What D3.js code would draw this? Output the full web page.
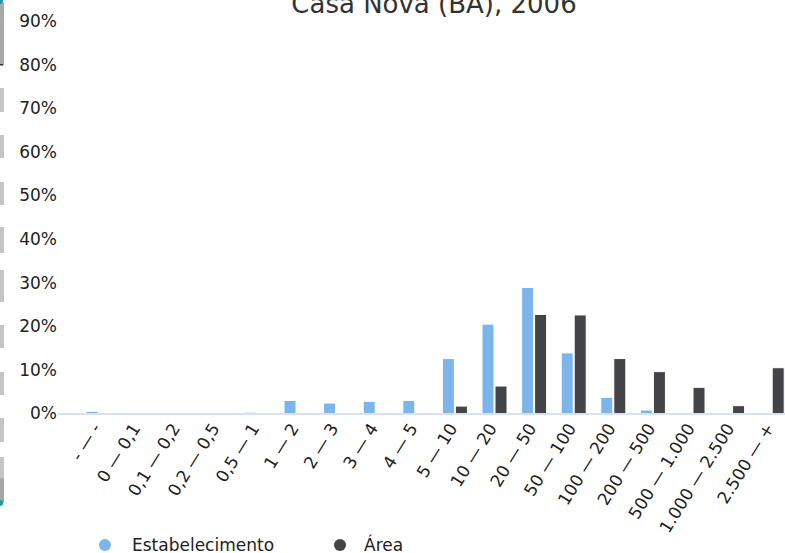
<!DOCTYPE html>
<html>
<head>
<meta charset="utf-8">
<script src="https://cdn.jsdelivr.net/npm/d3@7"></script>
<style>
  html, body { margin: 0; padding: 0; background: #fff; }
  svg { display: block; font-family: "DejaVu Sans", sans-serif; }
</style>
</head>
<body>
<svg id="chart" width="785" height="553"></svg>
<script>
const title = "Casa Nova (BA), 2006";
const categories = ["- — -", "0 — 0,1", "0,1 — 0,2", "0,2 — 0,5", "0,5 — 1", "1 — 2", "2 — 3", "3 — 4", "4 — 5",
  "5 — 10", "10 — 20", "20 — 50", "50 — 100", "100 — 200", "200 — 500", "500 — 1.000", "1.000 — 2.500", "2.500 — +"];
const seriesNames = ["Estabelecimento", "Área"];
const estabelecimento = [0.5, 0, 0, 0, 0.3, 3.0, 2.4, 2.8, 3.0, 12.6, 20.5, 28.9, 13.9, 3.7, 0.8, 0, 0, 0];
const area = [0, 0, 0, 0, 0, 0, 0, 0, 0, 1.7, 6.3, 22.7, 22.6, 12.6, 9.6, 6.0, 1.8, 10.5];
const yTicks = [0, 10, 20, 30, 40, 50, 60, 70, 80, 90];
const colors = ["#7cb5ec", "#434348"];

const svg = d3.select("#chart");

// decorative left-edge strip (part of the reference screenshot)
const strip = svg.append("g");
strip.append("rect").attr("x", 0).attr("y", 3).attr("width", 4).attr("height", 62).attr("fill", "#a8a8a8");
strip.append("rect").attr("x", 0).attr("y", 64).attr("width", 3).attr("height", 1.5).attr("fill", "#333");
[[88, 24], [135, 23], [182, 23], [227, 26], [270, 32], [325, 23], [372, 23], [418, 24], [457, 46]].forEach(s => {
  strip.append("rect").attr("x", 0).attr("y", s[0]).attr("width", 4).attr("height", s[1]).attr("fill", "#c4c4c4");
});
strip.append("rect").attr("x", 0).attr("y", 478).attr("width", 4).attr("height", 25).attr("fill", "#a6a6a6");
strip.append("circle").attr("cx", 0).attr("cy", 1).attr("r", 3).attr("fill", "#1b9c9c");
strip.append("circle").attr("cx", 0).attr("cy", 503).attr("r", 3).attr("fill", "#1b9c9c");

const x = d3.scaleBand().domain(categories).range([78.7, 791.5]).padding(0);
const y = d3.scaleLinear().domain([0, 90]).range([413.5, 21]);

// title
svg.append("text").attr("x", 434).attr("y", 13).attr("text-anchor", "middle")
  .attr("font-size", 26).attr("fill", "#333333").text(title);

// y axis labels
const yAxis = d3.axisLeft(y).tickValues(yTicks).tickFormat(d => d + "%").tickSize(0).tickPadding(0);
const yg = svg.append("g").attr("transform", "translate(57,0)").call(yAxis);
yg.select(".domain").remove();
yg.selectAll("text").attr("font-size", 17).attr("fill", "#222").attr("font-family", "DejaVu Sans, sans-serif");

// bars
const barW = 12;
const series = [estabelecimento, area];
series.forEach((vals, si) => {
  svg.append("g").selectAll("rect").data(vals.map((v, i) => ({ v, c: categories[i] })).filter(d => d.v > 0))
    .join("rect")
    .attr("x", d => x(d.c) + x.bandwidth() / 2 + (si === 0 ? -barW - 0.5 : 0.5))
    .attr("y", d => y(d.v))
    .attr("width", barW)
    .attr("height", d => y(0) - y(d.v))
    .attr("fill", colors[si])
    .attr("stroke", "#fff").attr("stroke-width", 1);
});

// x axis line
svg.append("line").attr("x1", 58).attr("x2", 785).attr("y1", 414).attr("y2", 414)
  .attr("stroke", "#ccd6eb").attr("stroke-width", 1.5);

// x axis labels
const xAxis = d3.axisBottom(x).tickSize(0).tickPadding(0);
const xg = svg.append("g").call(xAxis);
xg.select(".domain").remove();
xg.selectAll(".tick").attr("transform", d => `translate(${x(d) + x.bandwidth() / 2 + 3},428)`);
xg.selectAll("text")
  .attr("font-size", 17).attr("fill", "#222").attr("font-family", "DejaVu Sans, sans-serif")
  .attr("text-anchor", "end").attr("x", 0).attr("y", 0).attr("dy", 0)
  .attr("transform", "rotate(-58)");

// legend
const legend = svg.append("g");
const legendPos = [[105, 132], [340, 364]];
seriesNames.forEach((n, i) => {
  legend.append("circle").attr("cx", legendPos[i][0]).attr("cy", 545).attr("r", 6).attr("fill", colors[i]);
  legend.append("text").attr("x", legendPos[i][1]).attr("y", 551).attr("font-size", 17)
    .attr("fill", "#222").text(n);
});
</script>
</body>
</html>
